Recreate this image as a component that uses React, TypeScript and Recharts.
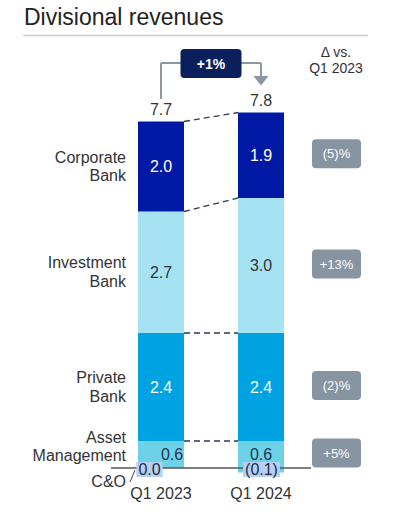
import React from "react";
import { BarChart, Bar, XAxis, YAxis, ReferenceLine, ReferenceDot, LabelList } from "recharts";

// Divisional revenues, EUR bn
const categories = ["Q1 2023", "Q1 2024"];
const assetManagement = [0.6, 0.6];
const privateBank = [2.4, 2.4];
const investmentBank = [2.7, 3.0];
const corporateBank = [2.0, 1.9];
const cAndO = [0.0, -0.1];
const totals = [7.7, 7.8];
const totalChange = "+1%";
// delta vs Q1 2023, bottom to top: AM, PB, IB, CB
const deltaLabels = ["+5%", "(2)%", "+13%", "(5)%"];

const FONT = "'Liberation Sans', Arial, sans-serif";
const BAR = 46;
const TEXT = "#333333";

const data = categories.map((cat, i) => ({
  cat,
  co: cAndO[i],
  am: assetManagement[i],
  pb: privateBank[i],
  ib: investmentBank[i],
  cb: corporateBank[i],
}));

const fmt = (v: number) => (v < 0 ? `(${Math.abs(v).toFixed(1)})` : v.toFixed(1));

const SERIES = [
  { key: "am", lines: ["Asset", "Management"], fill: "#6dd2e8", text: "#1f3350", labelShift: -8 },
  { key: "pb", lines: ["Private", "Bank"], fill: "#00a3e1", text: "#ffffff", labelShift: 0 },
  { key: "ib", lines: ["Investment", "Bank"], fill: "#a5e3f2", text: "#333333", labelShift: 0 },
  { key: "cb", lines: ["Corporate", "Bank"], fill: "#0019a5", text: "#ffffff", labelShift: 0 },
];

// cumulative tops of each segment, used for the dashed connectors
const levels = SERIES.map((_, s) =>
  data.map((d) => SERIES.slice(0, s + 1).reduce((acc, ser) => acc + (d as any)[ser.key], 0))
);

function rectOf(p: any) {
  const vb = p.viewBox ?? {};
  return {
    x: Number(p.x ?? vb.x),
    y: Number(p.y ?? vb.y),
    width: Number(p.width ?? vb.width),
    height: Number(p.height ?? vb.height),
  };
}

function makeSegmentLabel(s: number) {
  const ser = SERIES[s];
  return (p: any) => {
    const { x, y, width, height } = rectOf(p);
    const idx = p.index;
    const c = y + height / 2;
    const val = (data[idx] as any)[ser.key];
    const dx = ser.key === "am" && idx === 0 ? 11 : 0;
    return (
      <g>
        <text x={x + width / 2 + dx} y={c + 5.5} textAnchor="middle" fontSize={16} fill={ser.text} fontFamily={FONT}>
          {fmt(val)}
        </text>
        {idx === 0 && (
          <text x={x - 12} y={c - 4 + ser.labelShift} textAnchor="end" fontSize={16} fill={TEXT} fontFamily={FONT}>
            <tspan x={x - 12}>{ser.lines[0]}</tspan>
            <tspan x={x - 12} dy={18.5}>{ser.lines[1]}</tspan>
          </text>
        )}
        {idx === 1 && (
          <g>
            <rect x={x + width + 28} y={c - 16} width={49} height={29} rx={4} fill="#8794a2" />
            <text x={x + width + 52.5} y={c + 3} textAnchor="middle" fontSize={13} fill="#ffffff" fontFamily={FONT}>
              {deltaLabels[s]}
            </text>
          </g>
        )}
        {s === SERIES.length - 1 && (
          <text x={x + width / 2} y={y - 7} textAnchor="middle" fontSize={16} fill={TEXT} fontFamily={FONT}>
            {totals[idx].toFixed(1)}
          </text>
        )}
      </g>
    );
  };
}

const textWidth = (s: string) =>
  s.split("").reduce((w, ch) => w + (ch === "." ? 4.4 : ch === "(" || ch === ")" ? 5.3 : 8.9), 0);

function makeCoLabel(i: number) {
  return (p: any) => {
    const { cx, cy } = p;
    const label = fmt(cAndO[i]);
    const w = textWidth(label) + 4;
    const bx = i === 0 ? cx - 11.5 : cx + 0.5;
    return (
      <g>
        <rect x={bx - w / 2} y={cy - 6} width={w} height={15} fill="#b7cff0" />
        <text x={bx} y={cy + 6.5} textAnchor="middle" fontSize={16} fill="#1c2c48" fontFamily={FONT}>
          {label}
        </text>
        {i === 0 && (
          <g>
            <line x1={cx - 31} y1={cy + 14} x2={cx - 26} y2={cy + 2} stroke="#444" strokeWidth={1} />
            <text x={cx - 35} y={cy + 19} textAnchor="end" fontSize={16} fill={TEXT} fontFamily={FONT}>
              C&amp;O
            </text>
          </g>
        )}
      </g>
    );
  };
}

const connector = (p: any) => (
  <line
    x1={p.x1 + BAR / 2}
    y1={p.y1}
    x2={p.x2 - BAR / 2}
    y2={p.y2}
    stroke="#2b3a55"
    strokeWidth={1.3}
    strokeDasharray="6 4"
  />
);

const BRACKET = "#8a97a4";
const BRACKET_TOP = 9.0;

const bracketTop = (p: any) => {
  const mx = (p.x1 + p.x2) / 2;
  return (
    <g>
      <line x1={p.x1} y1={p.y1} x2={p.x2} y2={p.y2} stroke={BRACKET} strokeWidth={2} />
      <rect x={mx - 30.5} y={p.y1 - 14} width={61} height={29} rx={4} fill="#0a1f5c" />
      <text x={mx} y={p.y1 + 5.5} textAnchor="middle" fontSize={14} fontWeight="bold" fill="#ffffff" fontFamily={FONT}>
        {totalChange}
      </text>
    </g>
  );
};

const bracketArrow = (p: any) => (
  <g>
    <line x1={p.x1} y1={p.y1} x2={p.x2} y2={p.y2 - 9} stroke={BRACKET} strokeWidth={2} />
    <polygon points={`${p.x2 - 7.5},${p.y2 - 9.5} ${p.x2 + 7.5},${p.y2 - 9.5} ${p.x2},${p.y2}`} fill={BRACKET} />
  </g>
);

const plainLine = (p: any) => <line x1={p.x1} y1={p.y1} x2={p.x2} y2={p.y2} stroke={BRACKET} strokeWidth={2} />;

export default function App() {
  return (
    <div style={{ position: "fixed", left: 0, top: 0, width: 393, height: 514, background: "#fff", fontFamily: FONT }}>
      <svg width={393} height={514} style={{ position: "absolute", left: 0, top: 0 }}>
        <text x={24} y={25} fontSize={23} fill="#222" fontFamily={FONT}>
          Divisional revenues
        </text>
        <line x1={23} y1={35.5} x2={368} y2={35.5} stroke="#c5c9ce" strokeWidth={1.5} />
        <text x={336} y={57} textAnchor="middle" fontSize={14} fill={TEXT} fontFamily={FONT}>
          Δ vs.
        </text>
        <text x={336} y={73} textAnchor="middle" fontSize={14} fill={TEXT} fontFamily={FONT}>
          Q1 2023
        </text>
      </svg>
      <div style={{ position: "absolute", left: 0, top: 0 }}>
        <BarChart
          width={393}
          height={514}
          data={data}
          stackOffset="sign"
          margin={{ top: 40.5, right: 82, bottom: 0, left: 111 }}
        >
          <XAxis
            dataKey="cat"
            height={28}
            axisLine={false}
            tickLine={false}
            tickSize={0}
            tickMargin={2}
            tick={{ fontSize: 16, fill: TEXT, fontFamily: FONT }}
          />
          <YAxis hide type="number" domain={[-0.4, 9.5]} allowDataOverflow />
          <Bar dataKey="co" stackId="a" barSize={BAR} fill="#6dd2e8" isAnimationActive={false} />
          {SERIES.map((ser, s) => (
            <Bar key={ser.key} dataKey={ser.key} stackId="a" barSize={BAR} fill={ser.fill} isAnimationActive={false}>
              <LabelList dataKey={ser.key} content={makeSegmentLabel(s)} />
            </Bar>
          ))}
          <ReferenceLine y={0} stroke="#555" strokeWidth={1.5} />
          {levels.map((lv, s) => (
            <ReferenceLine
              key={`c${s}`}
              segment={[
                { x: categories[0], y: lv[0] },
                { x: categories[1], y: lv[1] },
              ]}
              shape={connector}
            />
          ))}
          <ReferenceLine
            segment={[
              { x: categories[0], y: 8.2 },
              { x: categories[0], y: BRACKET_TOP },
            ]}
            shape={plainLine}
          />
          <ReferenceLine
            segment={[
              { x: categories[0], y: BRACKET_TOP },
              { x: categories[1], y: BRACKET_TOP },
            ]}
            shape={bracketTop}
          />
          <ReferenceLine
            segment={[
              { x: categories[1], y: BRACKET_TOP },
              { x: categories[1], y: 8.5 },
            ]}
            shape={bracketArrow}
          />
          {categories.map((cat, i) => (
            <ReferenceDot key={cat} x={cat} y={0} shape={makeCoLabel(i)} />
          ))}
        </BarChart>
      </div>
    </div>
  );
}
